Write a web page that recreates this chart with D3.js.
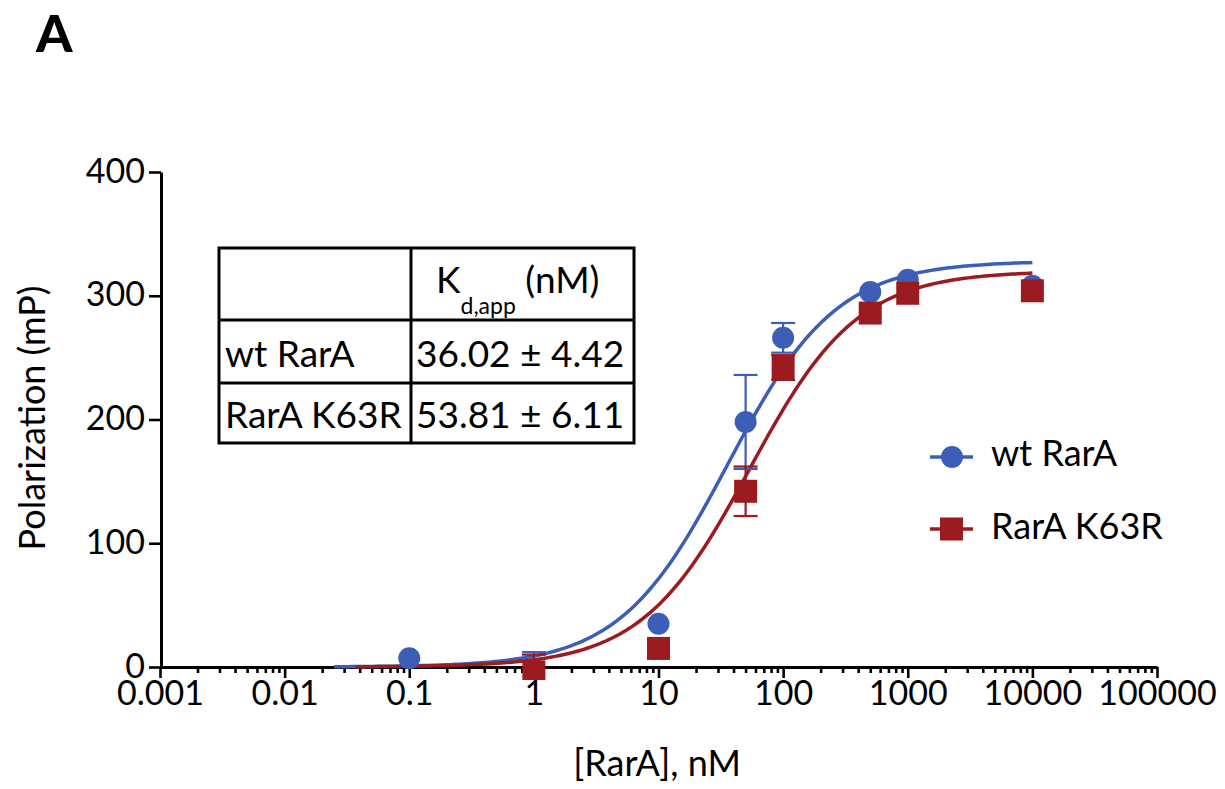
<!DOCTYPE html>
<html>
<head>
<meta charset="utf-8">
<script src="https://cdn.jsdelivr.net/npm/d3@7"></script>
<style>
  html, body { margin: 0; padding: 0; background: #fff; }
  svg { display: block; font-family: Lato, "Open Sans", sans-serif; }
</style>
</head>
<body>
<svg id="chart" width="1225" height="789"></svg>
<script>
// ---------- data ----------
const seriesNames = ["wt RarA", "RarA K63R"];
const wtConc   = [0.1, 1, 10, 50, 100, 500, 1000, 10000];
const wtMean   = [7, -4, 35, 198, 266, 303, 313, 308];
const wtErr    = [0, 16, 0, 38, 12, 0, 0, 0];
const mutConc  = [1, 10, 50, 100, 500, 1000, 10000];
const mutMean  = [-4, 15, 142, 242, 286, 302, 304];
const mutErr   = [14, 0, 20, 10, 0, 0, 0];
// fitted one-site binding parameters (Kd from table)
const kdValues   = [36.02, 53.81];
const bmaxValues = [328, 320];
const fitStart   = [0.025, 0.037];
const fitEnd     = [10000, 10000];
const tableHeader = ["", "K", "d,app", " (nM)"];
const tableRows = [["wt RarA", "36.02 \u00b1 4.42"], ["RarA K63R", "53.81 \u00b1 6.11"]];
const xTickValues = [0.001, 0.01, 0.1, 1, 10, 100, 1000, 10000, 100000];
const xTickLabels = ["0.001", "0.01", "0.1", "1", "10", "100", "1000", "10000", "100000"];
const yTickValues = [0, 100, 200, 300, 400];

const colors = ["#3c5eb6", "#9b1b20"];

// ---------- layout ----------
const svg = d3.select("#chart");
const x = d3.scaleLog().domain([0.001, 100000]).range([160, 1157]);
const y = d3.scaleLinear().domain([0, 400]).range([667, 172]);

// panel label
svg.append("text").attr("x", 36).attr("y", 52)
  .attr("font-size", 52).attr("font-weight", 900).text("A");

// clip for data
svg.append("clipPath").attr("id", "plotclip").append("rect")
  .attr("x", 150).attr("y", 150).attr("width", 1050).attr("height", 530);

// y axis
const yAxis = svg.append("g").attr("transform", "translate(161,0)")
  .call(d3.axisLeft(y).tickValues(yTickValues).tickSize(12).tickSizeOuter(0).tickPadding(4));
yAxis.selectAll("text").attr("font-size", 34).attr("font-family", "Lato").attr("fill", "#000");
yAxis.selectAll(".tick text").attr("dy", "0.3em");

// x axis major
const xAxis = svg.append("g").attr("transform", "translate(0,667)")
  .call(d3.axisBottom(x).tickValues(xTickValues).tickFormat((d, i) => xTickLabels[i])
    .tickSize(11).tickSizeOuter(0).tickPadding(3));
xAxis.selectAll("text").attr("font-size", 34).attr("font-family", "Lato").attr("fill", "#000");

// x axis minor
const minor = [];
xTickValues.slice(0, -1).forEach(d => { for (let k = 2; k <= 9; k++) minor.push(d * k); });
const xMinor = svg.append("g").attr("transform", "translate(0,667)")
  .call(d3.axisBottom(x).tickValues(minor).tickFormat("").tickSize(6).tickSizeOuter(0));
xMinor.select(".domain").remove();

[yAxis, xAxis, xMinor].forEach(g => {
  g.selectAll("path.domain").attr("stroke", "#000").attr("stroke-width", 3);
  g.selectAll(".tick line").attr("stroke", "#000").attr("stroke-width", 2.6);
});

// axis titles
svg.append("text").attr("transform", "translate(45,418) rotate(-90)")
  .attr("text-anchor", "middle").attr("font-size", 36).text("Polarization (mP)");
svg.append("text").attr("x", 657).attr("y", 776)
  .attr("text-anchor", "middle").attr("font-size", 36).text("[RarA], nM");

// ---------- fitted curves ----------
const plot = svg.append("g").attr("clip-path", "url(#plotclip)");
const line = d3.line().x(d => x(d[0])).y(d => y(d[1]));
[0, 1].forEach(s => {
  const lo = Math.log10(fitStart[s]), hi = Math.log10(fitEnd[s]);
  const pts = d3.range(0, 201).map(i => {
    const c = Math.pow(10, lo + (hi - lo) * i / 200);
    return [c, bmaxValues[s] * c / (kdValues[s] + c)];
  });
  plot.append("path").datum(pts).attr("d", line)
    .attr("fill", "none").attr("stroke", colors[s]).attr("stroke-width", 3.5);
});

// ---------- points & error bars ----------
function drawSeries(conc, mean, err, color, shape) {
  const g = plot.append("g");
  conc.forEach((c, i) => {
    const cx = x(c);
    if (err[i] > 0) {
      const y1 = y(mean[i] + err[i]), y2 = y(mean[i] - err[i]);
      g.append("line").attr("x1", cx).attr("x2", cx).attr("y1", y1).attr("y2", y2)
        .attr("stroke", color).attr("stroke-width", 2.2);
      [y1, y2].forEach(yy => g.append("line").attr("x1", cx - 12).attr("x2", cx + 12)
        .attr("y1", yy).attr("y2", yy).attr("stroke", color).attr("stroke-width", 2.2));
    }
  });
  conc.forEach((c, i) => {
    if (shape === "circle") {
      g.append("circle").attr("cx", x(c)).attr("cy", y(mean[i])).attr("r", 11).attr("fill", color);
    } else {
      g.append("rect").attr("x", x(c) - 11.5).attr("y", y(mean[i]) - 11.5)
        .attr("width", 23).attr("height", 23).attr("fill", color);
    }
  });
}
drawSeries(wtConc, wtMean, wtErr, colors[0], "circle");
drawSeries(mutConc, mutMean, mutErr, colors[1], "square");

// ---------- table ----------
const tcols = [219, 411, 634];
const trows = [248, 320, 383, 443];
const tab = svg.append("g");
tab.append("rect").attr("x", tcols[0]).attr("y", trows[0])
  .attr("width", tcols[2] - tcols[0]).attr("height", trows[3] - trows[0])
  .attr("fill", "#fff").attr("stroke", "#000").attr("stroke-width", 3);
tab.append("line").attr("x1", tcols[1]).attr("x2", tcols[1]).attr("y1", trows[0]).attr("y2", trows[3])
  .attr("stroke", "#000").attr("stroke-width", 3);
[trows[1], trows[2]].forEach(yy => tab.append("line").attr("x1", tcols[0]).attr("x2", tcols[2])
  .attr("y1", yy).attr("y2", yy).attr("stroke", "#000").attr("stroke-width", 3));
const hdr = tab.append("text").attr("x", 436).attr("y", 293).attr("font-size", 37);
hdr.append("tspan").text(tableHeader[1]);
hdr.append("tspan").attr("font-size", 23).attr("dy", 21).text(tableHeader[2]);
hdr.append("tspan").attr("dy", -21).text(tableHeader[3]);
tableRows.forEach((r, i) => {
  const base = [367, 428][i];
  tab.append("text").attr("x", 225).attr("y", base).attr("font-size", 37).text(r[0]);
  tab.append("text").attr("x", 416).attr("y", base).attr("font-size", 37).text(r[1]);
});

// ---------- legend ----------
const leg = svg.append("g");
const legY = [457, 529];
[0, 1].forEach(s => {
  leg.append("line").attr("x1", 930).attr("x2", 973).attr("y1", legY[s]).attr("y2", legY[s])
    .attr("stroke", colors[s]).attr("stroke-width", 3.5);
  if (s === 0) leg.append("circle").attr("cx", 952).attr("cy", legY[s]).attr("r", 11).attr("fill", colors[s]);
  else leg.append("rect").attr("x", 940).attr("y", legY[s] - 11.5).attr("width", 23).attr("height", 23).attr("fill", colors[s]);
  leg.append("text").attr("x", 991).attr("y", legY[s] + 9 - (s ? -1 : 0)).attr("font-size", 36)
    .text(seriesNames[s]);
});
</script>
</body>
</html>
